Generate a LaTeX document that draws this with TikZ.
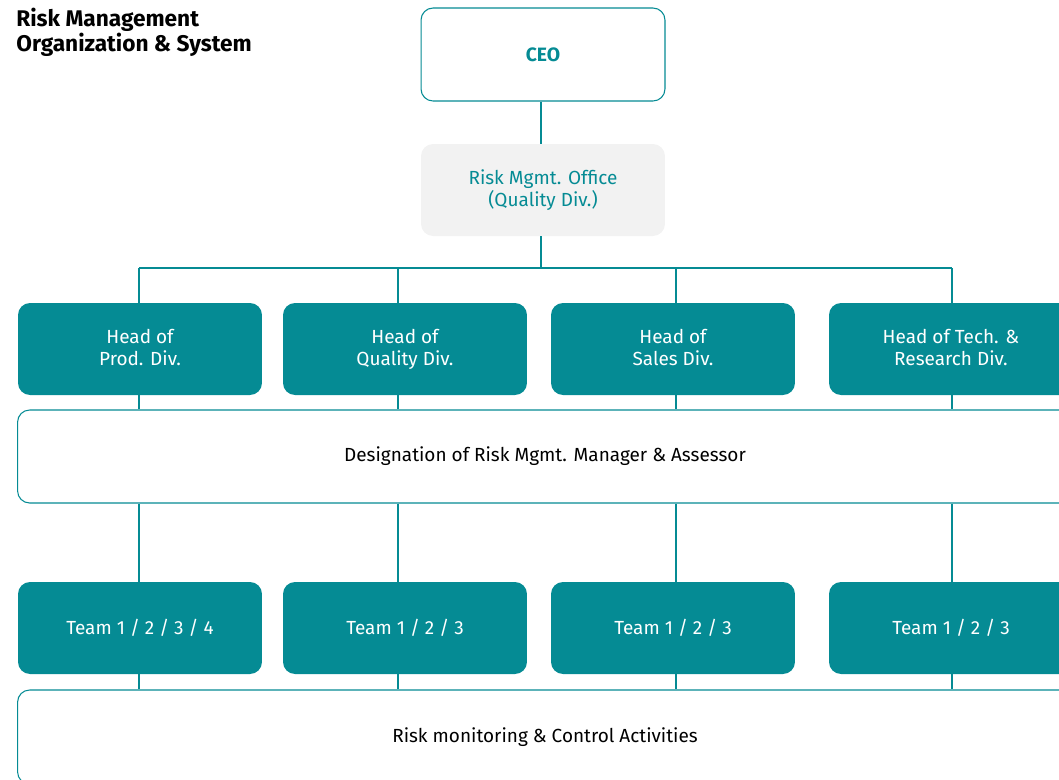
\documentclass[tikz,border=0pt]{standalone}
\usepackage{fontspec}
\setmainfont{Fira Sans}
\usetikzlibrary{positioning}
\definecolor{riskteal}{HTML}{058B94}
\definecolor{officegray}{HTML}{F2F2F2}

\begin{document}
\begin{tikzpicture}[x=0.02cm,y=-0.02cm,
    every node/.style={align=center,inner sep=0pt,font=\fontsize{10.8}{12.5}\selectfont},
    outlinebox/.style={draw=riskteal,fill=white,line width=0.6pt,rounded corners=0.24cm},
    headbox/.style={fill=riskteal,text=white,rounded corners=0.24cm,minimum width=4.88cm,minimum height=1.84cm},
    wire/.style={draw=riskteal,line width=0.6pt}]
  \useasboundingbox (0,0) rectangle (1059,779);
  \clip (0,0) rectangle (1059,779);
  % title
  \node[anchor=north west,align=left,font=\fontsize{12.9}{14}\selectfont\bfseries] (title) at (16,8)
    {Risk Management\\Organization \& System};
  % top of the chart
  \node[outlinebox,minimum width=4.88cm,minimum height=1.86cm,text=riskteal,font=\fontsize{11}{13}\selectfont\bfseries] (ceo) at (543,54.5) {CEO};
  \node[fill=officegray,text=riskteal,rounded corners=0.24cm,minimum width=4.88cm,minimum height=1.84cm] (rmo) at (543,190)
    {Risk Mgmt. Office\\(Quality Div.)};
  % division heads
  \node[headbox] (hd1) at (140,349) {Head of\\Prod. Div.\vphantom{y}};
  \node[headbox] (hd2) at (405,349) {Head of\\Quality Div.};
  \node[headbox] (hd3) at (673,349) {Head of\\Sales Div.\vphantom{y}};
  \node[headbox] (hd4) at (951,349) {Head of Tech. \&\\Research Div.\vphantom{y}};
  \node[outlinebox,minimum width=21.1cm,minimum height=1.86cm] (desig) at (545,456.5)
    {Designation of Risk Mgmt. Manager \& Assessor};
  % teams
  \node[headbox] (tm1) at (140,628) {Team 1 / 2 / 3 / 4};
  \node[headbox] (tm2) at (405,628) {Team 1 / 2 / 3};
  \node[headbox] (tm3) at (673,628) {Team 1 / 2 / 3};
  \node[headbox] (tm4) at (951,628) {Team 1 / 2 / 3};
  \node[outlinebox,minimum width=21.1cm,minimum height=1.88cm] (risk) at (545,737)
    {Risk monitoring \& Control Activities};
  % connectors
  \coordinate (bus) at (541,268);
  \draw[wire] (bus |- ceo.south) -- (bus |- rmo.north);
  \draw[wire] (bus |- rmo.south) -- (bus);
  \foreach \i/\x in {1/139,2/398,3/676,4/952} {
    \coordinate (b\i) at (\x,268);
    \draw[wire] (b\i) -- (b\i |- hd\i.north);
    \draw[wire] (b\i |- hd\i.south) -- (b\i |- desig.north);
    \draw[wire] (b\i |- desig.south) -- (b\i |- tm\i.north);
    \draw[wire] (b\i |- tm\i.south) -- (b\i |- risk.north);
  }
  \draw[wire] (b1) -- (b4);
\end{tikzpicture}
\end{document}
